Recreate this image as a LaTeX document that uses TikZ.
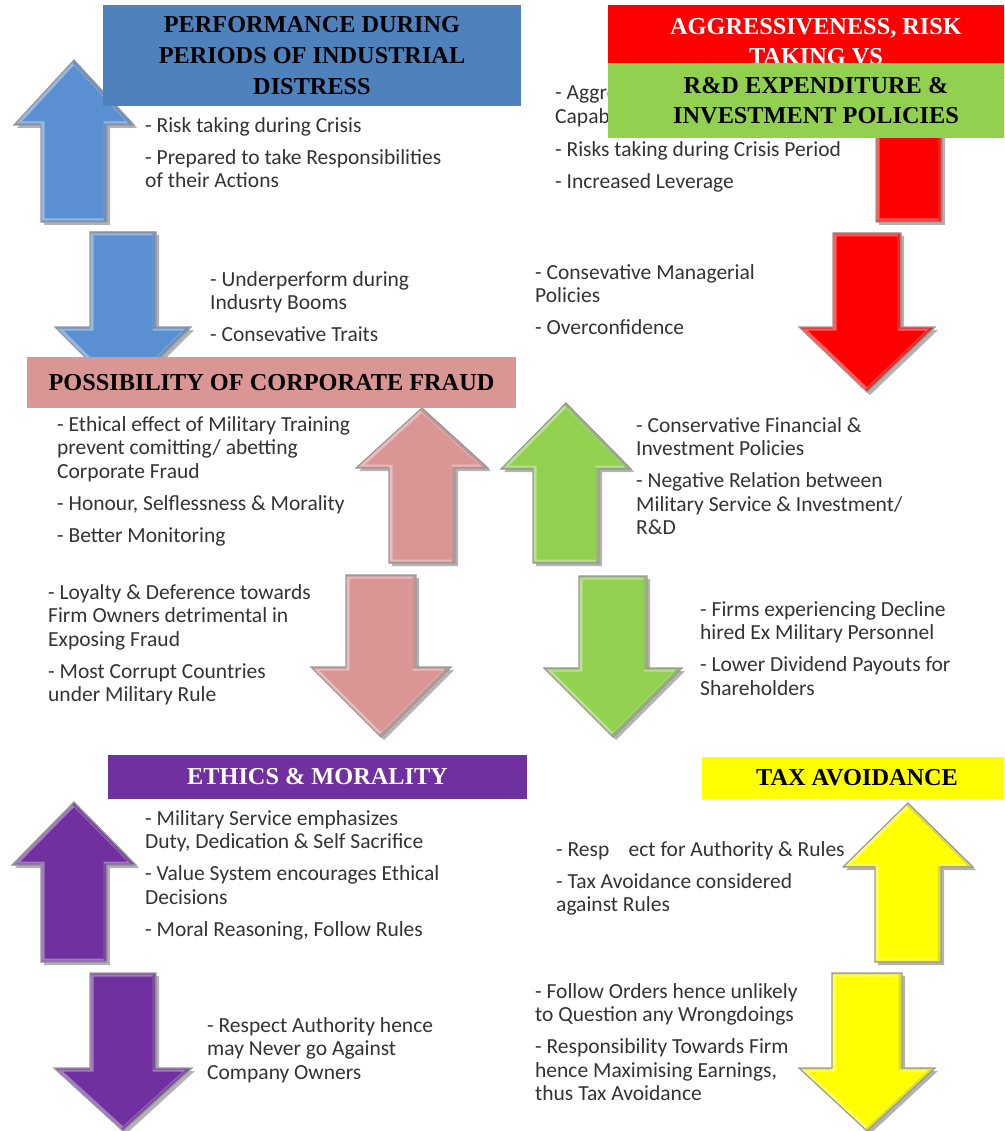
\documentclass[tikz,border=0pt]{standalone}
\usepackage{fontspec}
\setmainfont{Liberation Serif}
\newfontfamily\bodyfont{Carlito}
\definecolor{cblue}{HTML}{4F81BD}
\definecolor{cbluearr}{HTML}{5A8FD2}
\definecolor{cred}{HTML}{FF0000}
\definecolor{cgreen}{HTML}{92D050}
\definecolor{cpink}{HTML}{DA9694}
\definecolor{cpurple}{HTML}{7030A0}
\definecolor{cyellow}{HTML}{FFFF00}
\definecolor{ctext}{HTML}{333333}
% arrow outline: cx, tip, head, tail, half head, half shaft
\newcommand\arrpath[6]{(#1,#2) -- ({#1+#5},#3) -- ({#1+#6},#3) -- ({#1+#6},#4) -- ({#1-#6},#4) -- ({#1-#6},#3) -- ({#1-#5},#3) -- cycle}
\newcommand\bigarrow[7]{%
  \fill[black!30, shift={(3,3)}] \arrpath{#2}{#3}{#4}{#5}{#6}{#7};
  \fill[#1] \arrpath{#2}{#3}{#4}{#5}{#6}{#7};
  \begin{scope}
    \clip \arrpath{#2}{#3}{#4}{#5}{#6}{#7};
    \draw[#1!55!white, line width=7pt, line join=miter, opacity=0.8] \arrpath{#2}{#3}{#4}{#5}{#6}{#7};
    \draw[#1!75!black, line width=3pt, line join=miter, opacity=0.5, shift={(-2,0)}] \arrpath{#2}{#3}{#4}{#5}{#6}{#7};
  \end{scope}
  \draw[black!40, line width=1.2pt, line join=miter] \arrpath{#2}{#3}{#4}{#5}{#6}{#7};
}
\tikzset{
  txt/.style={anchor=north west, inner sep=0pt, align=left, text=ctext,
    font=\bodyfont\fontsize{21.5}{23.5}\selectfont},
  ttl/.style={inner sep=0pt, align=center,
    font=\bfseries\fontsize{24.3}{31}\selectfont},
}
\begin{document}
\begin{tikzpicture}[x=1pt,y=-1pt]
\clip (0,0) rectangle (1004,1131);
\fill[white] (0,0) rectangle (1004,1131);

% arrows
\bigarrow{cbluearr}{74}{60}{125}{222}{60}{33}
\bigarrow{cbluearr}{123}{395}{327}{232}{68}{33}
\bigarrow{cred}{909}{60}{125}{222}{62}{33}
\bigarrow{cred}{867}{392}{327}{233}{68}{34}
\bigarrow{cpink}{422}{408}{468}{563}{66}{33}
\bigarrow{cpink}{381}{737}{667}{575}{70}{35}
\bigarrow{cgreen}{566}{403}{469}{563}{65}{33}
\bigarrow{cgreen}{613}{737}{668}{576}{69}{34}
\bigarrow{cpurple}{74}{802}{865}{962}{62}{33}
\bigarrow{cpurple}{123}{1131}{1068}{973}{69}{33}
\bigarrow{cyellow}{908}{803}{867}{962}{65}{33}
\bigarrow{cyellow}{867}{1131}{1068}{973}{68}{35}

% text groups
\node[txt] (a1) at (145,117) {- Risk taking during Crisis\\[8.5pt]- Prepared to take Responsibilities\\of their Actions};
\node[txt] (a2) at (210,271) {- Underperform during\\Indusrty Booms\\[8.5pt]- Consevative Traits};
\node[txt] (b1) at (555,85) {- Aggressiveness\\Capabilities\\[9.5pt]- Risks taking during Crisis Period\\[8.5pt]- Increased Leverage};
\node[txt] (b2) at (535,264) {- Consevative Managerial\\Policies\\[8.5pt]- Overconfidence};
\node[txt] (c1) at (57,416) {- Ethical effect of Military Training\\prevent comitting/ abetting\\Corporate Fraud\\[8.5pt]- Honour, Selflessness \& Morality\\[8.5pt]- Better Monitoring};
\node[txt] (c2) at (48,584) {- Loyalty \& Deference towards\\Firm Owners detrimental in\\Exposing Fraud\\[8.5pt]- Most Corrupt Countries\\under Military Rule};
\node[txt] (d1) at (636,417) {- Conservative Financial \&\\Investment Policies\\[8.5pt]- Negative Relation between\\Military Service \& Investment/\\R\&D};
\node[txt] (d2) at (700,601) {- Firms experiencing Decline\\hired Ex Military Personnel\\[8.5pt]- Lower Dividend Payouts for\\Shareholders};
\node[txt] (e1) at (145,810) {- Military Service emphasizes\\Duty, Dedication \& Self Sacrifice\\[8.5pt]- Value System encourages Ethical\\Decisions\\[8.5pt]- Moral Reasoning, Follow Rules};
\node[txt] (e2) at (207,1017) {- Respect Authority hence\\may Never go Against\\Company Owners};
\node[txt] (f1) at (556,841) {- Resp\hspace{0.9em}ect for Authority \& Rules\\[8.5pt]- Tax Avoidance considered\\against Rules};
\node[txt] (f2) at (535,983) {- Follow Orders hence unlikely\\to Question any Wrongdoings\\[8.5pt]- Responsibility Towards Firm\\hence Maximising Earnings,\\thus Tax Avoidance};

% title boxes
\node[ttl, fill=cblue, text=black, minimum width=418pt, minimum height=101pt] (tperf) at (312,55.5)
  {PERFORMANCE DURING\\PERIODS OF INDUSTRIAL\\DISTRESS};
\node[ttl, fill=cred, text=white, minimum width=416pt, minimum height=74pt, font=\bfseries\fontsize{24.3}{30}\selectfont] (taggr) at (816,42)
  {AGGRESSIVENESS, RISK\\TAKING VS};
\node[ttl, fill=cgreen, text=black, minimum width=416pt, minimum height=75pt, font=\bfseries\fontsize{24.3}{29.5}\selectfont] (trnd) at (816,100.5)
  {R\&D EXPENDITURE \&\\INVESTMENT POLICIES};
\node[ttl, fill=cpink, text=black, minimum width=489pt, minimum height=51pt] (tfraud) at (271.5,382.5)
  {POSSIBILITY OF CORPORATE FRAUD};
\node[ttl, fill=cpurple, text=white, minimum width=419pt, minimum height=44pt] (teth) at (317.5,777)
  {ETHICS \& MORALITY};
\node[ttl, fill=cyellow, text=black, minimum width=310pt, minimum height=42pt] (ttax) at (857,778)
  {TAX AVOIDANCE};
\end{tikzpicture}
\end{document}
